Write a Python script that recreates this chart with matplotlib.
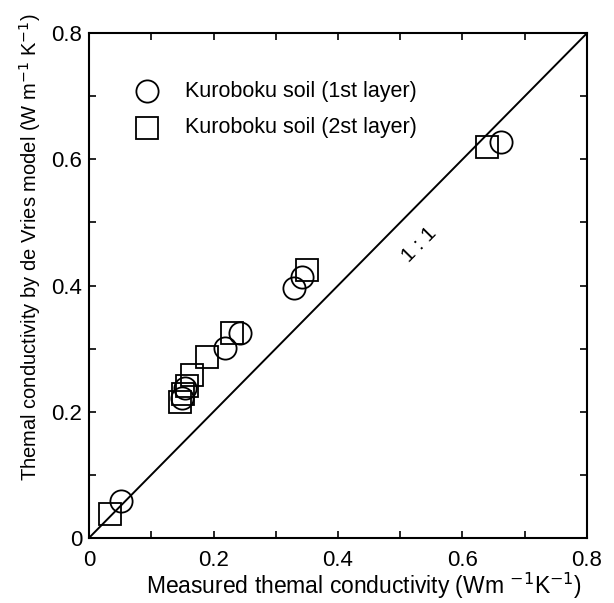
import numpy as np
from matplotlib import pyplot as plt
from matplotlib.ticker import MultipleLocator, FuncFormatter

plt.rcParams['font.family'] = ['Liberation Sans', 'DejaVu Sans']

# measured vs. de Vries model thermal conductivity (W m-1 K-1)
layer1_measured = [0.052, 0.149, 0.154, 0.219, 0.243, 0.329, 0.342, 0.662]
layer1_model = [0.058, 0.222, 0.238, 0.301, 0.325, 0.396, 0.413, 0.628]
layer2_measured = [0.034, 0.146, 0.151, 0.157, 0.166, 0.189, 0.229, 0.350, 0.640]
layer2_model = [0.038, 0.216, 0.228, 0.240, 0.258, 0.287, 0.324, 0.425, 0.620]

fig = plt.figure(figsize=(6.14, 6.03), dpi=100)
ax = fig.add_axes([0.145, 0.108, 0.811, 0.837])

mk = dict(markersize=16, markerfacecolor='none', markeredgecolor='black',
          markeredgewidth=1.3, linestyle='none')
ax.plot(layer1_measured, layer1_model, marker='o', **mk)
ax.plot(layer2_measured, layer2_model, marker='s', **mk)

ax.plot([0, 0.8], [0, 0.8], color='black', linewidth=1.4)
ax.text(0.53, 0.465, '1 : 1', rotation=45.5, fontsize=15, ha='center', va='center')

# legend drawn by hand, like the original
ax.plot([0.093], [0.708], marker='o', **mk)
ax.plot([0.093], [0.650], marker='s', **mk)
ax.text(0.154, 0.708, 'Kuroboku soil (1st layer)', fontsize=15.5, va='center')
ax.text(0.154, 0.650, 'Kuroboku soil (2st layer)', fontsize=15.5, va='center')

ax.set_xlim(0, 0.8)
ax.set_ylim(0, 0.8)
ax.xaxis.set_major_locator(MultipleLocator(0.1))
ax.yaxis.set_major_locator(MultipleLocator(0.1))


def fmt(v, pos):
    k = int(round(v * 10))
    if k % 2:
        return ''
    if k == 0:
        return '0'
    return '%.1f' % v


ax.xaxis.set_major_formatter(FuncFormatter(fmt))
ax.yaxis.set_major_formatter(FuncFormatter(fmt))
ax.tick_params(direction='in', top=True, right=True, length=5, width=1.2,
               labelsize=16)
ax.tick_params(axis='x', pad=9)
ax.tick_params(axis='y', pad=5)
for s in ax.spines.values():
    s.set_linewidth(1.5)

ax.set_xlabel('Measured themal conductivity (Wm $^{-1}$K$^{-1}$)', fontsize=16.5)
ax.set_ylabel('Themal conductivity by de Vries model (W m$^{-1}$ K$^{-1}$)', fontsize=14.5)
ax.xaxis.set_label_coords(0.552, -0.065)
ax.yaxis.set_label_coords(-0.092, 0.576)

plt.savefig('out.png', dpi=100)
